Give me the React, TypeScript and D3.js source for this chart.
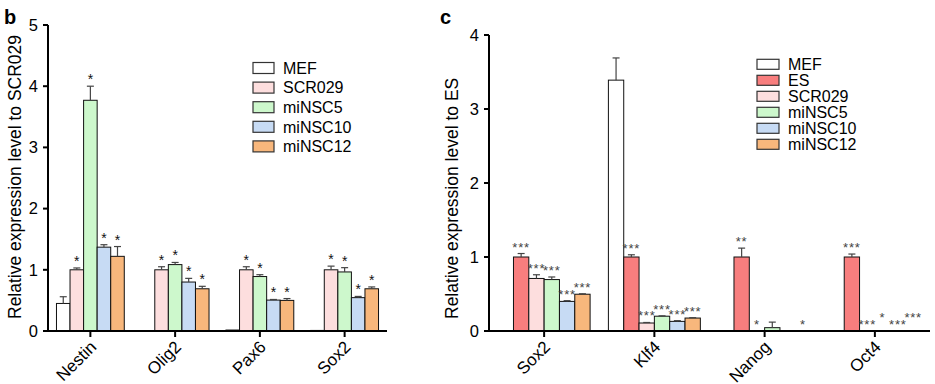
import React from "react";
import * as d3 from "d3";

// ---------- data ----------
const leftCategories = ["Nestin", "Olig2", "Pax6", "Sox2"];
const leftSeries = ["MEF", "SCR029", "miNSC5", "miNSC10", "miNSC12"];
const leftMEF = [0.45, 0, 0.02, 0.01];
const leftMEFErr = [0.11, 0, 0, 0];
const leftSCR029 = [1.0, 1.0, 1.0, 1.0];
const leftSCR029Err = [0.03, 0.05, 0.05, 0.06];
const leftMiNSC5 = [3.77, 1.085, 0.89, 0.965];
const leftMiNSC5Err = [0.23, 0.035, 0.03, 0.07];
const leftMiNSC10 = [1.37, 0.8, 0.505, 0.545];
const leftMiNSC10Err = [0.04, 0.06, 0.01, 0.02];
const leftMiNSC12 = [1.22, 0.69, 0.5, 0.69];
const leftMiNSC12Err = [0.16, 0.04, 0.03, 0.03];
const leftStars = [
  ["", "", "", ""],
  ["*", "*", "*", "*"],
  ["*", "*", "*", "*"],
  ["*", "*", "*", "*"],
  ["*", "*", "*", "*"],
];
const leftStarLift = [
  [0, 0, 0, 0],
  [0, 0, 0, 0],
  [0, 0, 0, 0],
  [0, 0, 0, 0],
  [0, 0, 0, 0],
];
const leftTicks = [0, 1, 2, 3, 4, 5];

const rightCategories = ["Sox2", "Klf4", "Nanog", "Oct4"];
const rightSeries = ["MEF", "ES", "SCR029", "miNSC5", "miNSC10", "miNSC12"];
const rightMEF = [0, 3.39, 0, 0];
const rightMEFErr = [0, 0.3, 0, 0];
const rightES = [1.0, 1.0, 1.0, 1.0];
const rightESErr = [0.047, 0.03, 0.12, 0.04];
const rightSCR029 = [0.71, 0.108, 0, 0.004];
const rightSCR029Err = [0.05, 0.007, 0, 0];
const rightMiNSC5 = [0.695, 0.2, 0.045, 0.004];
const rightMiNSC5Err = [0.035, 0.005, 0.075, 0];
const rightMiNSC10 = [0.4, 0.13, 0, 0.003];
const rightMiNSC10Err = [0.01, 0.01, 0, 0];
const rightMiNSC12 = [0.497, 0.175, 0, 0.003];
const rightMiNSC12Err = [0.006, 0.005, 0, 0];
const rightStars = [
  ["", "", "", ""],
  ["***", "***", "**", "***"],
  ["***", "***", "*", "***"],
  ["***", "***", "", "*"],
  ["***", "***", "", "***"],
  ["***", "***", "*", "***"],
];
// extra height (in data units) at which the reference lifts some stars
const rightStarLift = [
  [0, 0, 0, 0],
  [0, 0, 0, 0],
  [0, 0, 0, 0],
  [0, 0, 0, 0.09],
  [0, 0, 0, 0],
  [0, 0, 0, 0.09],
];
const rightTicks = [0, 1, 2, 3, 4];

const colorMap: Record<string, string> = {
  MEF: "#ffffff",
  ES: "#f87e7e",
  SCR029: "#fddede",
  miNSC5: "#cdf8cc",
  miNSC10: "#c7dbf4",
  miNSC12: "#f8b77c",
};

const FONT = "'Liberation Sans', Arial, Helvetica, sans-serif";

type PanelProps = {
  categories: string[];
  series: string[];
  values: number[][];
  errors: number[][];
  stars: string[][];
  starLift: number[][];
  ticks: number[];
  yMax: number;
  x0: number;
  x1: number;
  y0: number;
  y1: number;
  paddingInner: number;
  paddingOuter: number;
  yLabel: string;
  yLabelX: number;
  letter: string;
  letterX: number;
  legendX: number;
  legendY: number;
  legendStep: number;
  legendBoxW: number;
  legendBoxH: number;
  starSize: number;
  starColor: string;
  starSpacing: number;
};

function Panel(p: PanelProps) {
  const x = d3
    .scaleBand<string>()
    .domain(p.categories)
    .range([p.x0, p.x1])
    .paddingInner(p.paddingInner)
    .paddingOuter(p.paddingOuter);
  const xs = d3
    .scaleBand<string>()
    .domain(p.series)
    .range([0, x.bandwidth()])
    .padding(0);
  const y = d3.scaleLinear().domain([0, p.yMax]).range([p.y0, p.y1]);

  return (
    <g>
      <text x={p.letterX} y={24} fontSize={20} fontWeight="bold" fontFamily={FONT}>
        {p.letter}
      </text>
      {/* bars */}
      {p.series.map((s, si) =>
        p.categories.map((c, ci) => {
          const v = p.values[si][ci];
          const e = p.errors[si][ci];
          const bx = (x(c) as number) + (xs(s) as number);
          const bw = xs.bandwidth();
          const cx = bx + bw / 2;
          const top = y(v);
          const errTop = y(v + e);
          const starY = y(v + e + p.starLift[si][ci]);
          return (
            <g key={s + c}>
              <rect
                x={bx}
                y={top}
                width={bw}
                height={Math.max(0, p.y0 - top)}
                fill={colorMap[s]}
                stroke={v > 0.02 ? "#111" : "#666"}
                strokeWidth={1}
              />
              {e > 0 && (
                <g stroke="#444" strokeWidth={1.2}>
                  <line x1={cx} x2={cx} y1={top} y2={errTop} />
                  <line x1={cx - 3.5} x2={cx + 3.5} y1={errTop} y2={errTop} />
                </g>
              )}
              {p.stars[si][ci] && (
                <text
                  x={cx}
                  y={starY - 2}
                  textAnchor="middle"
                  fontSize={p.starSize}
                  fill={p.starColor}
                  letterSpacing={p.starSpacing}
                  fontFamily={FONT}
                >
                  {p.stars[si][ci]}
                </text>
              )}
            </g>
          );
        })
      )}
      {/* y axis */}
      <line x1={p.x0} x2={p.x0} y1={p.y0} y2={p.y1} stroke="#000" strokeWidth={2} />
      {p.ticks.map((t) => (
        <g key={t}>
          <line x1={p.x0 - 5} x2={p.x0} y1={y(t)} y2={y(t)} stroke="#000" strokeWidth={2} />
          <text
            x={p.x0 - 10}
            y={y(t)}
            dy="0.35em"
            textAnchor="end"
            fontSize={16.5}
            fontFamily={FONT}
          >
            {t}
          </text>
        </g>
      ))}
      {/* x axis */}
      <line x1={p.x0 - 5} x2={p.x1} y1={p.y0} y2={p.y0} stroke="#000" strokeWidth={2} />
      {p.categories.map((c) => {
        const cx = (x(c) as number) + x.bandwidth() / 2;
        return (
          <g key={c}>
            <line x1={cx} x2={cx} y1={p.y0} y2={p.y0 + 6} stroke="#000" strokeWidth={2} />
            <text
              transform={`translate(${cx + 7},${p.y0 + 17}) rotate(-45)`}
              textAnchor="end"
              fontSize={17}
              fontFamily={FONT}
            >
              {c}
            </text>
          </g>
        );
      })}
      {/* y label */}
      <text
        transform={`translate(${p.yLabelX},${p.y0 - 12}) rotate(-90)`}
        textAnchor="start"
        fontSize={17.5}
        fontFamily={FONT}
      >
        {p.yLabel}
      </text>
      {/* legend */}
      {p.series.map((s, i) => {
        const cy = p.legendY + i * p.legendStep;
        return (
          <g key={s}>
            <rect
              x={p.legendX}
              y={cy - p.legendBoxH / 2}
              width={p.legendBoxW}
              height={p.legendBoxH}
              fill={colorMap[s]}
              stroke="#333"
              strokeWidth={1.2}
            />
            <text
              x={p.legendX + p.legendBoxW + 9}
              y={cy}
              dy="0.36em"
              fontSize={16}
              fontFamily={FONT}
            >
              {s}
            </text>
          </g>
        );
      })}
    </g>
  );
}

export default function App() {
  return (
    <svg
      width={935}
      height={384}
      style={{ position: "absolute", left: 0, top: 0, background: "#fff" }}
    >
      <rect width={935} height={384} fill="#fff" />
      <Panel
        categories={leftCategories}
        series={leftSeries}
        values={[leftMEF, leftSCR029, leftMiNSC5, leftMiNSC10, leftMiNSC12]}
        errors={[leftMEFErr, leftSCR029Err, leftMiNSC5Err, leftMiNSC10Err, leftMiNSC12Err]}
        stars={leftStars}
        starLift={leftStarLift}
        ticks={leftTicks}
        yMax={5}
        x0={48}
        x1={387}
        y0={331}
        y1={25}
        paddingInner={0.2}
        paddingOuter={0.1}
        yLabel="Relative expression level to SCR029"
        yLabelX={21}
        letter="b"
        letterX={4}
        legendX={253}
        legendY={68}
        legendStep={19.6}
        legendBoxW={21}
        legendBoxH={11}
        starSize={14}
        starColor="#111"
        starSpacing={0}
      />
      <Panel
        categories={rightCategories}
        series={rightSeries}
        values={[rightMEF, rightES, rightSCR029, rightMiNSC5, rightMiNSC10, rightMiNSC12]}
        errors={[rightMEFErr, rightESErr, rightSCR029Err, rightMiNSC5Err, rightMiNSC10Err, rightMiNSC12Err]}
        stars={rightStars}
        starLift={rightStarLift}
        ticks={rightTicks}
        yMax={4}
        x0={489}
        x1={930}
        y0={331}
        y1={35}
        paddingInner={0.166}
        paddingOuter={0.083}
        yLabel="Relative expression level to ES"
        yLabelX={458}
        letter="c"
        letterX={440}
        legendX={757}
        legendY={64.3}
        legendStep={16}
        legendBoxW={22}
        legendBoxH={10}
        starSize={13}
        starColor="#444"
        starSpacing={0.8}
      />
    </svg>
  );
}
